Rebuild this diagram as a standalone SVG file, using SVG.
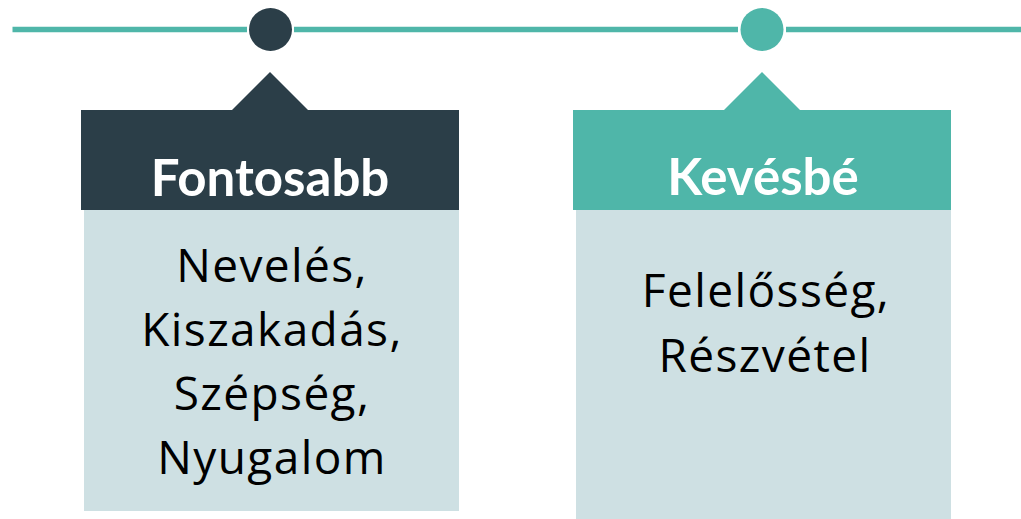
<svg xmlns="http://www.w3.org/2000/svg" width="1021" height="519" viewBox="0 0 1021 519">
<style>
.line{stroke:#4fb6a9;stroke-width:5.5;fill:none}
.dark{fill:#2b3e48}
.teal{fill:#4fb6a9}
.body{fill:#cee0e3}
.head{font-family:"Lato","Open Sans",sans-serif;font-weight:bold;font-size:51px;fill:#ffffff;text-anchor:middle}
.txt{font-family:"Open Sans","Noto Sans",sans-serif;font-size:46px;letter-spacing:1.4px;fill:#000000;text-anchor:middle}
</style>
<g id="connectors">
<line class="line" x1="12.5" y1="29.5" x2="247" y2="29.5"/>
<line class="line" x1="294" y1="29.5" x2="738" y2="29.5"/>
<line class="line" x1="786" y1="29.5" x2="1021" y2="29.5"/>
</g>
<g id="marker1"><circle class="dark" cx="270.5" cy="29.5" r="21.5"/></g>
<g id="marker2"><circle class="teal" cx="762" cy="29.5" r="21.5"/></g>
<g id="box1">
<rect class="body" x="84" y="210" width="375" height="301"/>
<path class="dark" d="M81 110 H232 L270 72 L308 110 H459 V210 H81 Z"/>
<text class="head" x="270" y="196">Fontosabb</text>
<text class="txt" x="272" y="282">Nevelés,</text>
<text class="txt" x="272" y="346">Kiszakadás,</text>
<text class="txt" x="272" y="410">Szépség,</text>
<text class="txt" x="272" y="474">Nyugalom</text>
</g>
<g id="box2">
<rect class="body" x="576" y="210" width="375" height="309"/>
<path class="teal" d="M573 110 H724 L762 72 L800 110 H951 V210 H573 Z"/>
<text class="head" x="763" y="195">Kevésbé</text>
<text class="txt" x="766" y="307">Felelősség,</text>
<text class="txt" x="765" y="372">Részvétel</text>
</g>
</svg>
